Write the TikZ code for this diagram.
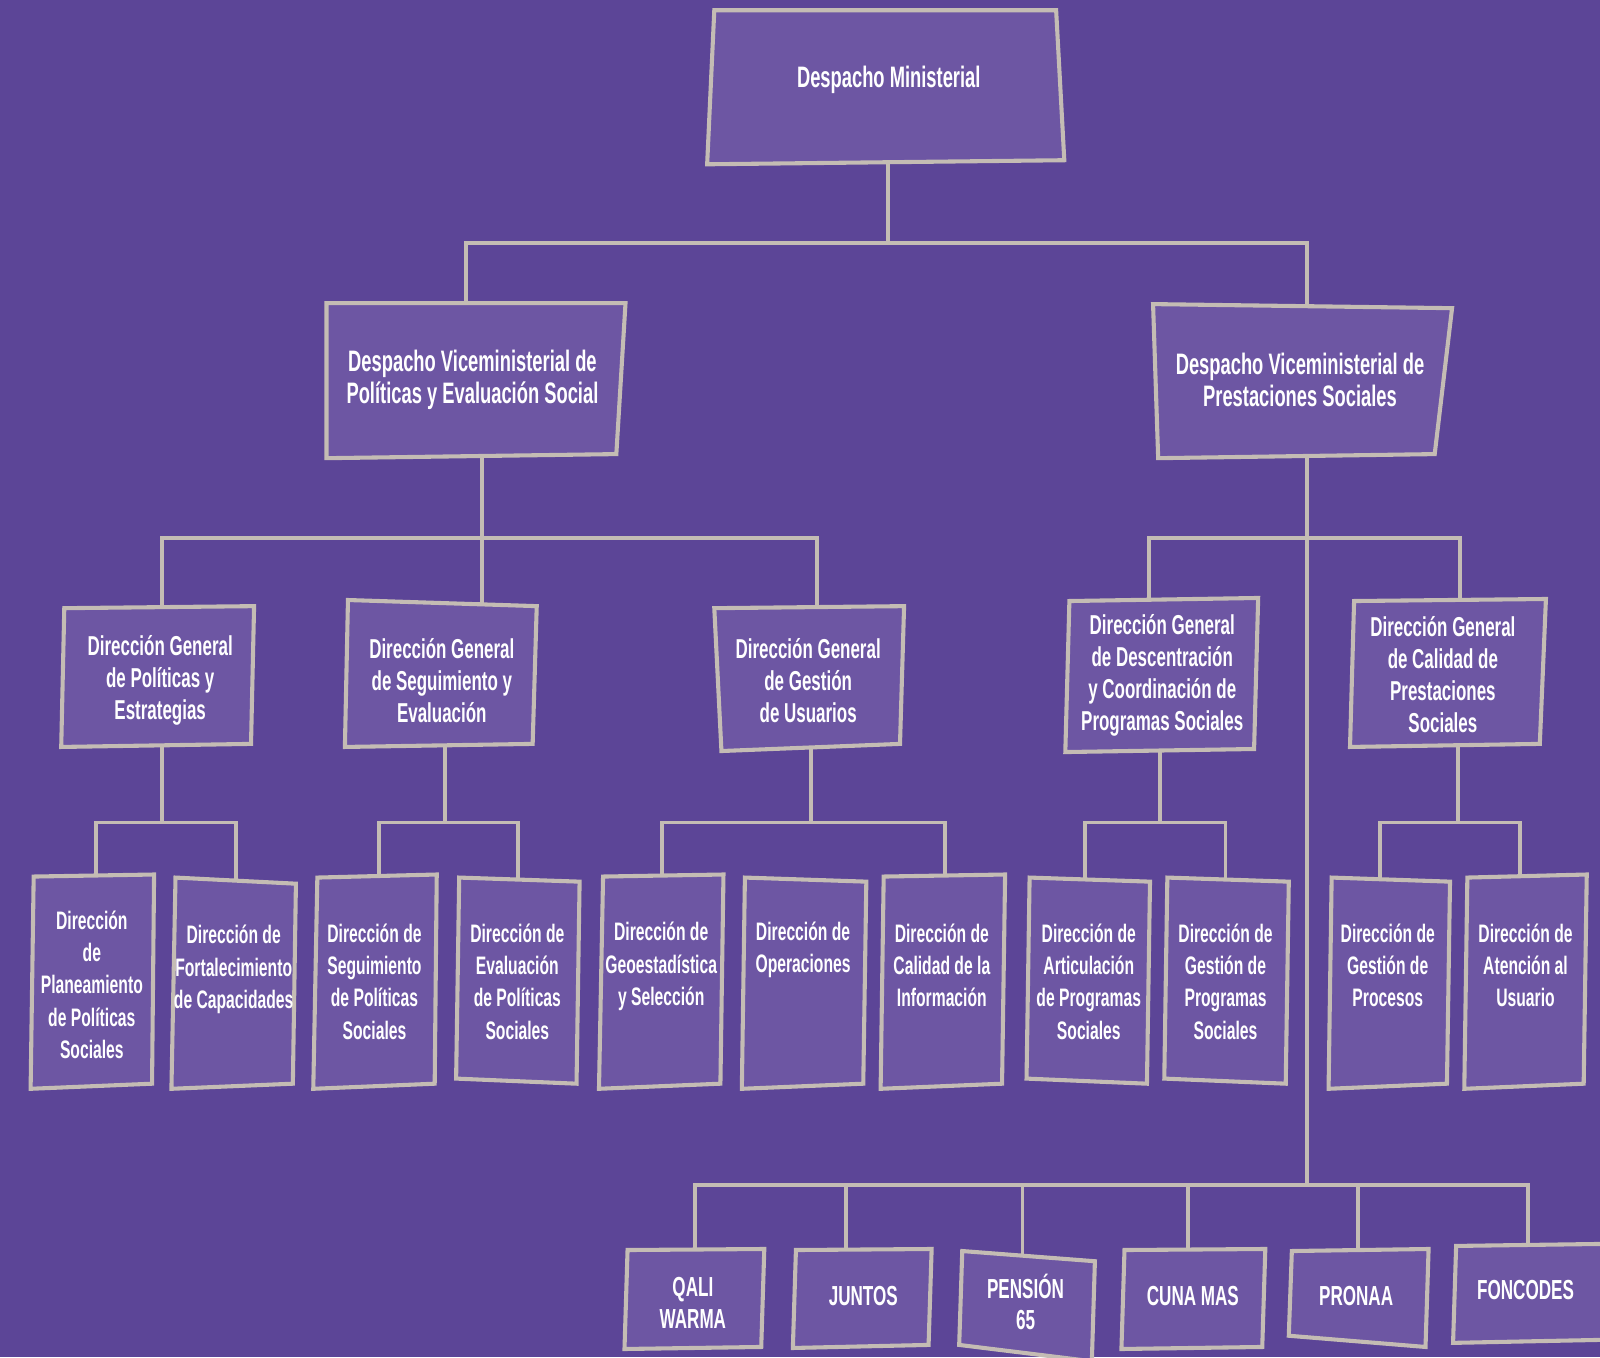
\documentclass[tikz,border=0pt]{standalone}
\usepackage{fontspec}
\newfontfamily\condf{Liberation Sans}[FakeStretch=0.62]
\definecolor{bgc}{RGB}{92,69,151}
\definecolor{boxc}{RGB}{109,86,163}
\definecolor{edgec}{RGB}{196,188,180}
\tikzset{
  boxst/.style={fill=boxc, draw=edgec, line width=2pt, line join=miter},
  conn/.style={draw=edgec, line width=1.9pt, line join=miter},
  txt/.style={text=white, align=center, inner sep=0pt},
  tA/.style={txt, font=\condf\bfseries\fontsize{14.5}{15.7}\selectfont},
  tB/.style={txt, font=\condf\bfseries\fontsize{13.4}{15.7}\selectfont},
  tC/.style={txt, font=\condf\bfseries\fontsize{12.4}{15.8}\selectfont},
  tD/.style={txt, font=\condf\bfseries\fontsize{13.5}{15.5}\selectfont},
}
% name, TL, TR, BR, BL, centre, style, text
\newcommand\obox[8]{%
  \draw[boxst] #2 -- #3 -- #4 -- #5 -- cycle;
  \node[#7] (#1) at #6 {#8};
}
\begin{document}
\begin{tikzpicture}[x=0.5pt, y=-0.5pt]
\useasboundingbox (0,0) rectangle (1568,1330);
\fill[bgc] (0,0) rectangle (1568,1330);

% attach coordinates
\coordinate (DM-b) at (870,80);
\coordinate (DVP-t) at (457,370);
\coordinate (DVP-b) at (472,370);
\coordinate (DVS-t) at (1281,370);
\coordinate (DVS-b) at (1281,370);
\coordinate (DG1-t) at (159,660);
\coordinate (DG2-t) at (472,660);
\coordinate (DG3-t) at (801,660);
\coordinate (DG4-t) at (1126,660);
\coordinate (DG5-t) at (1431,660);
\coordinate (DG1-b) at (159,660);
\coordinate (DG2-b) at (436,660);
\coordinate (DG3-b) at (795,660);
\coordinate (DG4-b) at (1137,660);
\coordinate (DG5-b) at (1429,660);
\coordinate (B1-t) at (94,960);
\coordinate (B2-t) at (231,960);
\coordinate (B3-t) at (371,960);
\coordinate (B4-t) at (508,960);
\coordinate (B5-t) at (649,960);
\coordinate (B7-t) at (926,960);
\coordinate (B8-t) at (1063,960);
\coordinate (B9-t) at (1201,960);
\coordinate (B10-t) at (1352,960);
\coordinate (B11-t) at (1490,960);
\coordinate (P1-t) at (681,1270);
\coordinate (P2-t) at (829,1270);
\coordinate (P3-t) at (1002,1270);
\coordinate (P4-t) at (1164,1270);
\coordinate (P5-t) at (1331,1270);
\coordinate (P6-t) at (1497,1270);
\coordinate (bus0) at (0,238);
\coordinate (bus1) at (0,527);
\coordinate (bus2) at (0,806);
\coordinate (bus3) at (0,1161);

% connectors
\foreach \c in {DVP-t,DVS-t} \draw[conn] (DM-b) -- (DM-b |- bus0) -| (\c);
\foreach \c in {DG1-t,DG2-t,DG3-t} \draw[conn] (DVP-b) -- (DVP-b |- bus1) -| (\c);
\foreach \c in {DG4-t,DG5-t} \draw[conn] (DVS-b) -- (DVS-b |- bus1) -| (\c);
\foreach \c in {B1-t,B2-t} \draw[conn] (DG1-b) -- (DG1-b |- bus2) -| (\c);
\foreach \c in {B3-t,B4-t} \draw[conn] (DG2-b) -- (DG2-b |- bus2) -| (\c);
\foreach \c in {B5-t,B7-t} \draw[conn] (DG3-b) -- (DG3-b |- bus2) -| (\c);
\foreach \c in {B8-t,B9-t} \draw[conn] (DG4-b) -- (DG4-b |- bus2) -| (\c);
\foreach \c in {B10-t,B11-t} \draw[conn] (DG5-b) -- (DG5-b |- bus2) -| (\c);
\foreach \c in {P1-t,P2-t,P3-t,P4-t,P5-t,P6-t} \draw[conn] (DVS-b) -- (DVS-b |- bus3) -| (\c);

% level 1
\obox{DM}{(700,10)}{(1035,10)}{(1043,157)}{(693,161)}{(871,78)}{tA}{Despacho Ministerial}
% level 2
\obox{DVP}{(320,297)}{(613,297)}{(604,445)}{(320,449)}{(463,372)}{tA}{Despacho Viceministerial de\\Políticas y Evaluación Social}
\obox{DVS}{(1130,298)}{(1423,302)}{(1406,445)}{(1135,449)}{(1274,372)}{tA}{Despacho Viceministerial de\\Prestaciones Sociales}
% level 3
\obox{DG1}{(63,596)}{(249,594)}{(246,729)}{(60,732)}{(157,667)}{tB}{Dirección General\\de Políticas y\\Estrategias}
\obox{DG2}{(341,588)}{(526,594)}{(522,729)}{(338,732)}{(433,667)}{tB}{Dirección General\\de Seguimiento y\\Evaluación}
\obox{DG3}{(700,596)}{(886,594)}{(882,729)}{(707,736)}{(792,667)}{tB}{Dirección General\\de Gestión\\de Usuarios}
\obox{DG4}{(1048,589)}{(1233,586)}{(1229,734)}{(1044,737)}{(1139,662)}{tB}{Dirección General\\de Descentración\\y Coordinación de\\Programas Sociales}
\obox{DG5}{(1327,589)}{(1515,587)}{(1509,729)}{(1323,732)}{(1414,661)}{tB}{Dirección General\\de Calidad de\\Prestaciones\\Sociales}
% level 4
\obox{B1}{(33,859)}{(151,857)}{(149,1062)}{(30,1067)}{(90,965)}{tC}{Dirección\\de\\Planeamiento\\de Políticas\\Sociales}
\obox{B2}{(172,860)}{(290,866)}{(287,1062)}{(168,1067)}{(229,950)}{tC}{Dirección de\\Fortalecimiento\\de Capacidades}
\obox{B3}{(311,860)}{(428,857)}{(426,1062)}{(307,1067)}{(367,962)}{tC}{Dirección de\\Seguimiento\\de Políticas\\Sociales}
\obox{B4}{(450,860)}{(568,864)}{(565,1062)}{(447,1057)}{(507,962)}{tC}{Dirección de\\Evaluación\\de Políticas\\Sociales}
\obox{B5}{(591,859)}{(709,857)}{(706,1062)}{(587,1067)}{(648,947)}{tC}{Dirección de\\Geoestadística\\y Selección}
\obox{B6}{(730,860)}{(849,864)}{(846,1062)}{(727,1067)}{(787,931)}{tC}{Dirección de\\Operaciones}
\obox{B7}{(866,859)}{(985,857)}{(982,1062)}{(863,1067)}{(923,946)}{tC}{Dirección de\\Calidad de la\\Información}
\obox{B8}{(1009,860)}{(1127,864)}{(1124,1062)}{(1006,1057)}{(1067,962)}{tC}{Dirección de\\Articulación\\de Programas\\Sociales}
\obox{B9}{(1144,860)}{(1263,864)}{(1260,1062)}{(1141,1057)}{(1201,962)}{tC}{Dirección de\\Gestión de\\Programas\\Sociales}
\obox{B10}{(1305,860)}{(1421,864)}{(1418,1062)}{(1302,1067)}{(1360,946)}{tC}{Dirección de\\Gestión de\\Procesos}
\obox{B11}{(1438,860)}{(1555,857)}{(1552,1062)}{(1435,1067)}{(1495,946)}{tC}{Dirección de\\Atención al\\Usuario}
% programmes
\obox{P1}{(615,1225)}{(749,1224)}{(746,1320)}{(612,1322)}{(679,1277)}{tD}{QALI\\WARMA}
\obox{P2}{(780,1225)}{(913,1224)}{(910,1318)}{(777,1321)}{(846,1270)}{tD}{JUNTOS}
\obox{P3}{(943,1226)}{(1073,1236)}{(1070,1334)}{(940,1318)}{(1005,1276)}{tD}{PENSIÓN\\65}
\obox{P4}{(1102,1225)}{(1240,1224)}{(1237,1320)}{(1099,1322)}{(1169,1270)}{tD}{CUNA MAS}
\obox{P5}{(1266,1226)}{(1400,1224)}{(1397,1320)}{(1263,1309)}{(1329,1270)}{tD}{PRONAA}
\obox{P6}{(1427,1221)}{(1572,1219)}{(1572,1313)}{(1424,1316)}{(1495,1264)}{tD}{FONCODES}
\end{tikzpicture}
\end{document}
